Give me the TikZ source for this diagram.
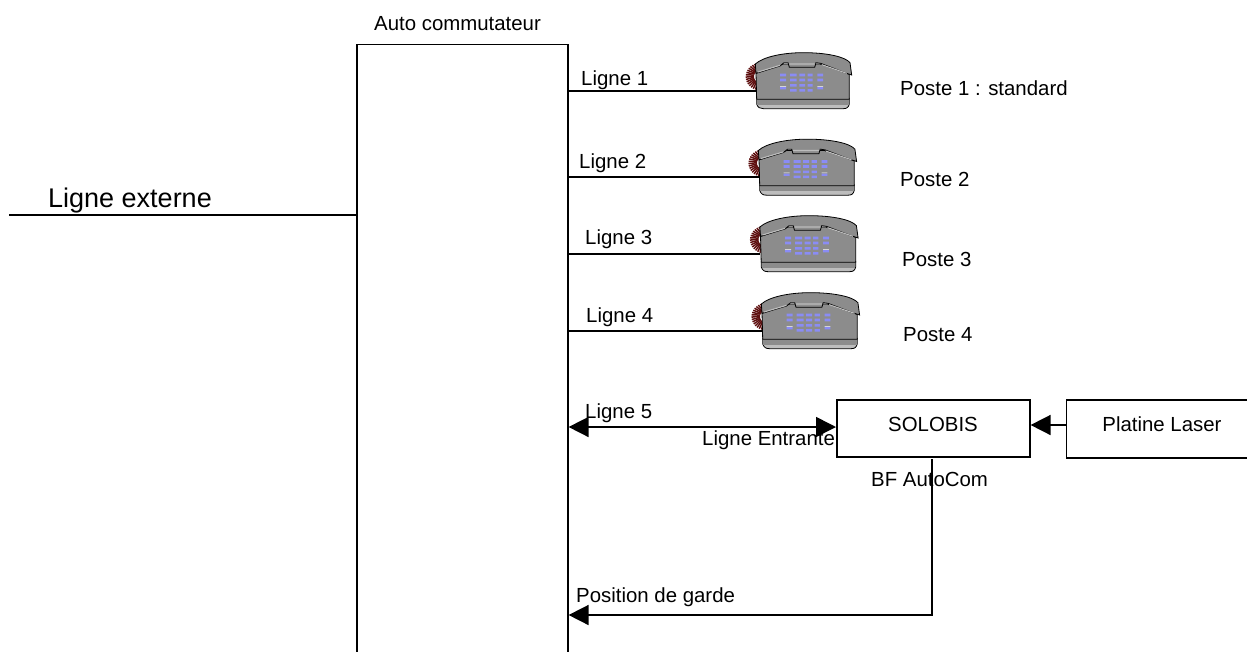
\documentclass[tikz,border=0pt]{standalone}
\usepackage{fontspec}
\setmainfont{Liberation Sans}
\usetikzlibrary{arrows.meta}
\definecolor{phonegray}{HTML}{8C8C8C}
\definecolor{phonelite}{HTML}{BDBDBD}
\definecolor{keyblue}{HTML}{8A8CF5}
\definecolor{cordred}{HTML}{5E0F0F}
\tikzset{
  x=1pt,y=-1pt,
  wire/.style={line width=1.6pt,draw=black},
  headed/.style={wire,-{Triangle[length=20pt,width=20pt]}},
  bothheaded/.style={wire,{Triangle[length=20pt,width=20pt]}-{Triangle[length=20pt,width=20pt]}},
  boxed/.style={draw=black,line width=1.6pt,fill=white,inner sep=0pt,anchor=north west},
  lab/.style={font=\fontsize{20.4}{24}\selectfont,anchor=west,inner sep=0pt},
  biglab/.style={font=\fontsize{27}{32}\selectfont,anchor=west,inner sep=0pt},
  ctr/.style={font=\fontsize{20.4}{24}\selectfont,inner sep=0pt},
}
\newcommand{\keyrow}[2]{\fill[keyblue] (150,#1) rectangle +(18,#2) (180,#1) rectangle +(20,#2) (208,#1) rectangle +(17,#2) (233,#1) rectangle +(15,#2) (262,#1) rectangle +(17,#2);}
\newcommand{\telephone}[3]{%
\begin{scope}[shift={(#1,#2)},x=#3pt/3,y=-1pt/3]
  % coil cord
  \foreach \a in {85,95,...,275}{
    \draw[cordred,line width=1.5pt] ({90+18*cos(\a)},{110-18*sin(\a)}) -- ({90+43*cos(\a+7)},{110-41*sin(\a+7)});
  }
  % base
  \filldraw[fill=phonelite,draw=black,line width=.8pt] (80,175) -- (358,175) -- (358,192) .. controls (355,203) and (350,206) .. (340,206) -- (100,206) .. controls (90,206) and (84,203) .. (80,192) -- cycle;
  \fill[phonegray] (81,178) rectangle (357,194);
  % body
  \filldraw[fill=phonegray,draw=black,line width=.8pt] (78,100) -- (160,72) -- (270,72) -- (358,103) -- (358,178) -- (80,178) -- cycle;
  % handset
  \filldraw[fill=phonegray,draw=black,line width=.8pt] (78,100) -- (76,72) .. controls (100,50) and (160,38) .. (220,38) .. controls (290,38) and (345,50) .. (360,68) -- (365,105) -- (350,100) -- (272,70) -- (258,68) -- (254,82) -- (178,82) -- (174,68) -- (162,68) -- (150,78) -- cycle;
  \draw[phonelite,line width=1.1pt] (84,96) -- (150,76) (275,74) -- (350,100) (178,72) -- (254,72);
  % keypad
  \keyrow{101}{8}
  \keyrow{116}{8}
  \fill[keyblue] (180,132) rectangle +(20,8) (208,132) rectangle +(17,8) (233,132) rectangle +(15,8);
  \fill[keyblue] (150,141) rectangle +(18,7) (262,141) rectangle +(17,7);
  \fill[white] (150,138) rectangle +(18,2) (262,138) rectangle +(17,2);
  \fill[keyblue] (180,147) rectangle +(20,8) (208,147) rectangle +(17,8) (233,147) rectangle +(15,8);
\end{scope}}
\begin{document}
\begin{tikzpicture}
\useasboundingbox (0,0) rectangle (1247,651);
\clip (0,0) rectangle (1247,651);
\fill[white] (0,0) rectangle (1247,651);

% main switch, running past the bottom edge
\node[boxed,minimum width=211pt,minimum height=640pt] (autocom) at (356,43.5) {};
\node[boxed,minimum width=193pt,minimum height=57pt] (solobis) at (836,399) {};
\node[boxed,minimum width=200pt,minimum height=58pt] (platine) at (1065.5,399) {};

% free ends
\coordinate (ext) at (9,215);
\coordinate (p1) at (757,91);
\coordinate (p2) at (759,177);
\coordinate (p3) at (760,254);
\coordinate (p4) at (762,331);
\coordinate (c5) at (600,427);
\coordinate (cp) at (1047,425);
\coordinate (gardetop) at (932,459);
\coordinate (garde) at (932,615);

\telephone{730}{40}{1}
\telephone{732.5}{126.5}{1.02}
\telephone{734}{203}{1.02}
\telephone{735.5}{280}{1.02}

\draw[wire] (ext) -- (ext -| autocom.west);
\draw[wire] (autocom.east |- p1) -- (p1);
\draw[wire] (autocom.east |- p2) -- (p2);
\draw[wire] (autocom.east |- p3) -- (p3);
\draw[wire] (autocom.east |- p4) -- (p4);
\draw[bothheaded] (autocom.east |- c5) -- (solobis.west |- c5);
\draw[headed] (platine.west |- cp) -- (solobis.east |- cp);
\draw[headed] (gardetop) -- (garde) -- (garde -| autocom.east);

\node[lab] (t0) at (374,23.5) {Auto commutateur};
\node[biglab] (t1) at (48,201) {Ligne externe};
\node[lab] (l1) at (581,80) {Ligne 1};
\node[lab] (l2) at (579,163) {Ligne 2};
\node[lab] (l3) at (585,239) {Ligne 3};
\node[lab] (l4) at (586,317) {Ligne 4};
\node[lab] (l5) at (585,413) {Ligne 5};
\node[lab] (le) at (702,440) {Ligne Entrante};
\node[lab] (pg) at (576,597) {Position de garde};
\node[lab] (bf) at (871,479) {BF AutoCom};
\node[lab] (s1) at (900,88) {Poste 1 : standard};
\node[lab] (s2) at (900,179) {Poste 2};
\node[lab] (s3) at (902,259) {Poste 3};
\node[lab] (s4) at (903,335) {Poste 4};
\node[ctr] (ts) at (933,424) {SOLOBIS};
\node[ctr] (tp) at (1162,424) {Platine Laser};
\end{tikzpicture}
\end{document}
